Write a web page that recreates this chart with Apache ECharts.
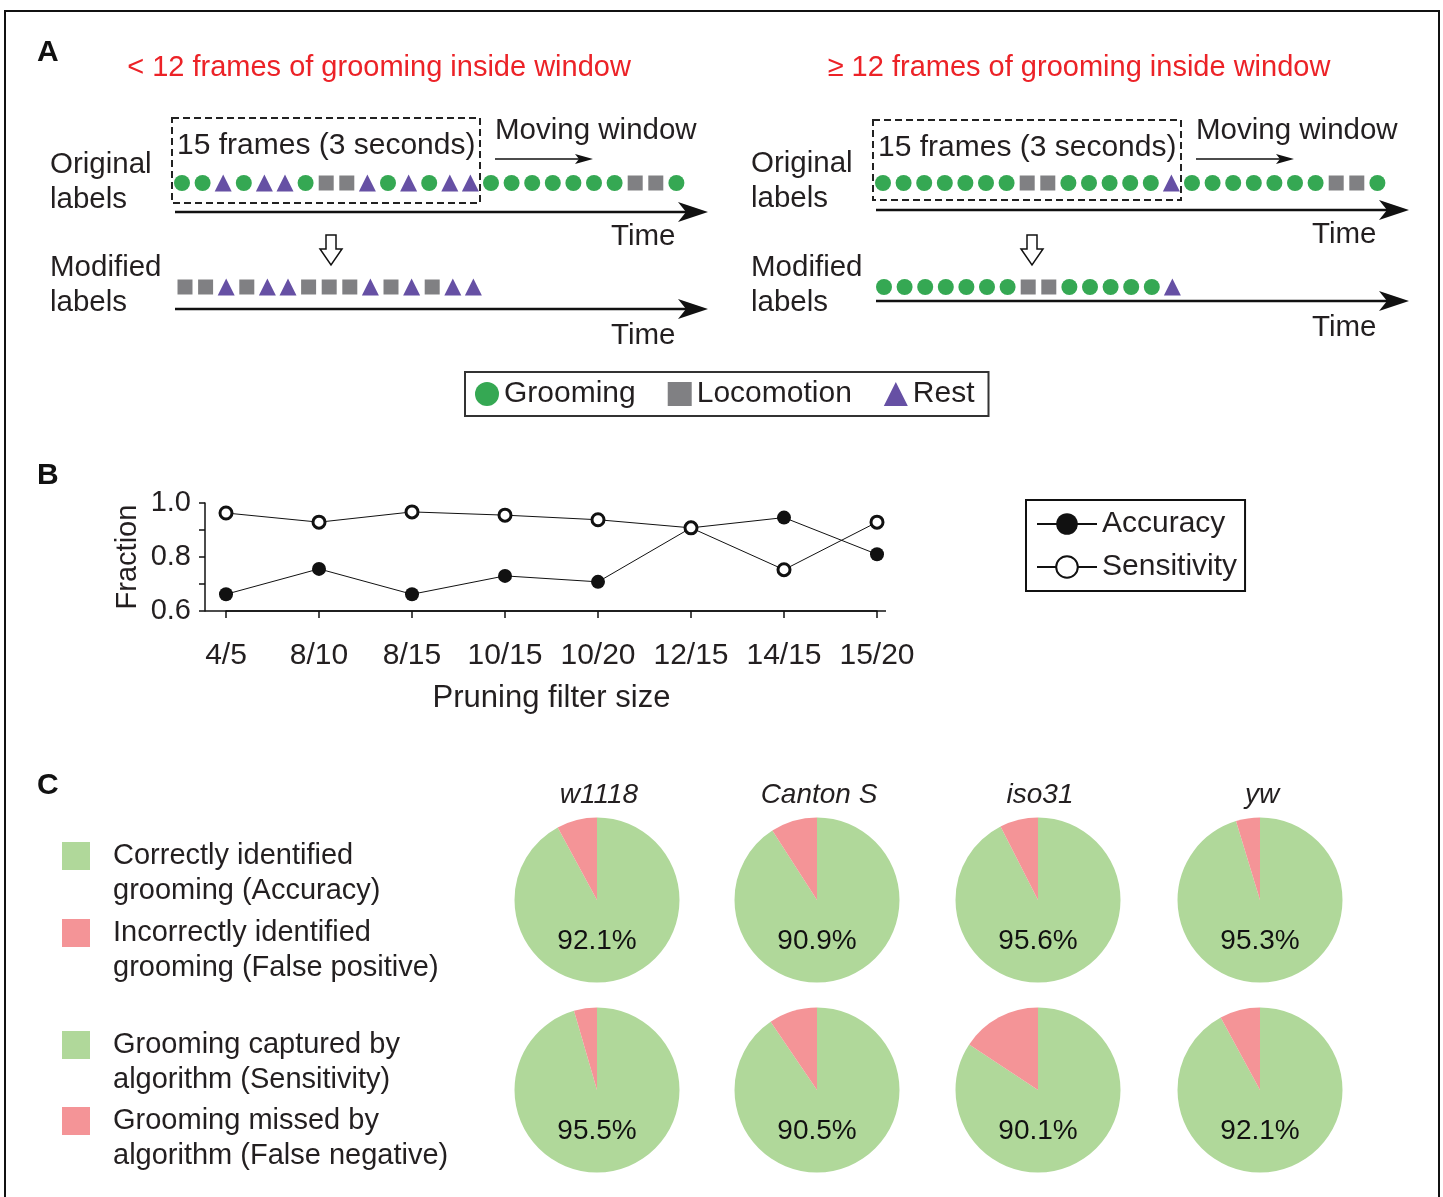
<!DOCTYPE html>
<html><head><meta charset="utf-8">
<script src="https://cdn.jsdelivr.net/npm/echarts@6/dist/echarts.min.js"></script>
<style>html,body{margin:0;padding:0;background:#fff}#c{width:1443px;height:1197px}</style>
</head><body><div id="c"></div>
<script>
// ---------- Panel A: frame labels (G = grooming, L = locomotion, R = rest)
const behaviors = ['Grooming', 'Locomotion', 'Rest'];
const behaviorCodes = ['G', 'L', 'R'];
const leftOriginal  = ['G','G','R','G','R','R','G','L','L','R','G','R','G','R','R','G','G','G','G','G','G','G','L','L','G'];
const leftModified  = ['L','L','R','L','R','R','L','L','L','R','L','R','L','R','R'];
const rightOriginal = ['G','G','G','G','G','G','G','L','L','G','G','G','G','G','R','G','G','G','G','G','G','G','L','L','G'];
const rightModified = ['G','G','G','G','G','G','G','L','L','G','G','G','G','G','R'];

// ---------- Panel B
const filterSizes = ['4/5', '8/10', '8/15', '10/15', '10/20', '12/15', '14/15', '15/20'];
const accuracy    = [0.662, 0.756, 0.662, 0.730, 0.708, 0.908, 0.946, 0.810];
const sensitivity = [0.963, 0.929, 0.967, 0.955, 0.938, 0.908, 0.753, 0.929];

// ---------- Panel C
const strains = ['w1118', 'Canton S', 'iso31', 'yw'];
const accuracyPct    = [92.1, 90.9, 95.6, 95.3];
const sensitivityPct = [95.5, 90.5, 90.1, 92.1];
const falsePositiveWedge = [7.9, 9.1, 7.5, 4.7];   // pink wedge as drawn (%)
const falseNegativeWedge = [4.5, 9.5, 15.7, 7.9];  // pink wedge as drawn (%)
const cLegendTop = ['Correctly identified\ngrooming (Accuracy)', 'Incorrectly identified\ngrooming (False positive)'];
const cLegendBottom = ['Grooming captured by\nalgorithm (Sensitivity)', 'Grooming missed by\nalgorithm (False negative)'];

// ---------- styling
const FONT = '"Liberation Sans", Arial, Helvetica, sans-serif';
const INK = '#231f20';
const GREEN = '#35a853', GRAY = '#808083', PURPLE = '#6650a4';
const PIE_GREEN = '#b0d89a', PIE_PINK = '#f49497';
const behaviorStyle = {
  G: {symbol: 'circle', size: 16, color: GREEN},
  L: {symbol: 'rect', size: 15, color: GRAY},
  R: {symbol: 'triangle', size: 17, color: PURPLE}
};

const grid = [], xAxis = [], yAxis = [], series = [], legend = [], graphic = [];

// Panel A rows as scatter on hidden axes
const STEP = 20.6;
const rows = [
  {seq: leftOriginal, left: 182, y: 183},
  {seq: leftModified, left: 185, y: 287},
  {seq: rightOriginal, left: 883, y: 183},
  {seq: rightModified, left: 884, y: 287}
];
rows.forEach((r, gi) => {
  grid.push({left: r.left, top: r.y - 10, width: STEP * 24, height: 20});
  xAxis.push({type: 'value', gridIndex: gi, min: 0, max: 24, show: false});
  yAxis.push({type: 'value', gridIndex: gi, min: 0, max: 1, show: false});
  behaviorCodes.forEach((code, bi) => {
    const st = behaviorStyle[code];
    series.push({
      type: 'scatter', name: behaviors[bi], xAxisIndex: gi, yAxisIndex: gi,
      symbol: st.symbol, symbolSize: st.size, itemStyle: {color: st.color, opacity: 1},
      silent: true,
      data: r.seq.map((c, i) => c === code ? [i, 0.5] : null).filter(d => d)
    });
  });
});

// Panel B
const GB = rows.length;
grid.push({left: 226, right: 566, top: 503, height: 108});
xAxis.push({
  type: 'category', gridIndex: GB, data: filterSizes, boundaryGap: false,
  axisLine: {show: true, lineStyle: {color: '#111', width: 1.5}},
  axisTick: {show: true, length: 7, interval: 0, lineStyle: {color: '#111', width: 1.5}},
  axisLabel: {fontSize: 30, fontFamily: FONT, color: INK, margin: 30, interval: 0},
  name: 'Pruning filter size', nameLocation: 'middle', nameGap: 72,
  nameTextStyle: {fontSize: 31, fontFamily: FONT, color: INK}
});
yAxis.push({
  type: 'value', gridIndex: GB, min: 0.6, max: 1.0, interval: 0.2, offset: 21,
  axisLine: {show: true, lineStyle: {color: '#111', width: 1.5}},
  axisTick: {show: true, length: 6, lineStyle: {color: '#111', width: 1.5}},
  minorTick: {show: true, splitNumber: 2, length: 6, lineStyle: {color: '#111', width: 1.5}},
  splitLine: {show: false},
  axisLabel: {fontSize: 29, fontFamily: FONT, color: INK, margin: 14, formatter: v => v.toFixed(1)},
  name: 'Fraction', nameLocation: 'middle', nameGap: 63, nameRotate: 90,
  nameTextStyle: {fontSize: 29, fontFamily: FONT, color: INK}
});
series.push({
  type: 'line', name: 'Accuracy', xAxisIndex: GB, yAxisIndex: GB, data: accuracy,
  symbol: 'circle', symbolSize: 14, showAllSymbol: true,
  lineStyle: {color: '#111', width: 1}, itemStyle: {color: '#111'}, silent: true
});
series.push({
  type: 'line', name: 'Sensitivity', xAxisIndex: GB, yAxisIndex: GB, data: sensitivity,
  symbol: 'circle', symbolSize: 12, showAllSymbol: true,
  lineStyle: {color: '#111', width: 1}, itemStyle: {color: '#fff', borderColor: '#111', borderWidth: 3}, silent: true
});

// Panel C pies
const pieX = [597, 817, 1038, 1260];
function addPie(cx, cy, pct, wedge, names) {
  series.push({
    type: 'pie', center: [cx, cy], radius: 82.5, startAngle: 90, clockwise: true,
    silent: true, avoidLabelOverlap: false, labelLine: {show: false},
    emphasis: {disabled: true},
    label: {show: false},
    data: [
      {value: 100 - wedge, name: names[0], itemStyle: {color: PIE_GREEN},
       label: {show: true, position: 'center', formatter: '\n' + pct.toFixed(1) + '%', fontSize: 28,
               lineHeight: 82, fontFamily: FONT, color: '#111'}},
      {value: wedge, name: names[1], itemStyle: {color: PIE_PINK}}
    ]
  });
}
strains.forEach((s, i) => {
  addPie(pieX[i], 900, accuracyPct[i], falsePositiveWedge[i], cLegendTop);
  addPie(pieX[i], 1090, sensitivityPct[i], falseNegativeWedge[i], cLegendBottom);
  graphic.push({type: 'text', silent: true, style: {text: s, x: pieX[i] + 2, y: 795, align: 'center', verticalAlign: 'middle',
    font: 'italic 28px ' + FONT, fill: INK}});
});

// Legends
legend.push({
  data: behaviors, left: 465, top: 372, orient: 'horizontal', itemWidth: 24, itemHeight: 24, itemGap: 32,
  padding: [7, 14, 7, 10], borderColor: '#333', borderWidth: 2, selectedMode: false,
  itemStyle: {opacity: 1},
  textStyle: {fontSize: 30, fontFamily: FONT, color: INK}
});
legend.push({
  data: ['Accuracy', 'Sensitivity'], left: 1026, top: 500, orient: 'vertical', itemWidth: 60, itemHeight: 27,
  itemGap: 13, padding: [9, 8, 9, 10], borderColor: '#111', borderWidth: 2, selectedMode: false,
  lineStyle: {width: 2}, textStyle: {fontSize: 30, fontFamily: FONT, color: INK}
});
const cLegendNames = cLegendTop.concat(cLegendBottom);
const cIconCenters = [855, 932, 1044, 1120];
cLegendNames.forEach((n, i) => {
  legend.push({
    data: [n], left: 62, top: cIconCenters[i] - 52.5, orient: 'vertical', itemWidth: 28, itemHeight: 28,
    icon: 'rect', padding: 0, selectedMode: false,
    formatter: name => '\n' + name,
    textStyle: {fontSize: 29, lineHeight: 35, fontFamily: FONT, color: INK, padding: [2, 0, 0, 18]}
  });
});

// ---------- Graphic decorations
const line = (x1, y1, x2, y2, w, dash) => ({type: 'line', silent: true, shape: {x1, y1, x2, y2},
  style: {stroke: '#111', lineWidth: w || 2, lineDash: dash || null}});
const txt = (text, x, y, size, opts) => Object.assign({type: 'text', silent: true,
  style: Object.assign({text, x, y, font: 'normal ' + size + 'px ' + FONT, fill: INK, align: 'left', verticalAlign: 'middle'}, opts || {})});
const poly = (pts, fill, stroke) => ({type: 'polygon', silent: true, shape: {points: pts},
  style: {fill: fill, stroke: stroke || null, lineWidth: stroke ? 1.5 : 0}});

// frame
graphic.push(line(5, 11, 1439, 11, 2), line(5, 10, 5, 1197, 2), line(1439, 10, 1439, 1197, 2));
// panel letters
graphic.push(txt('A', 37, 53, 30, {font: 'bold 30px ' + FONT, fill: '#111'}));
graphic.push(txt('B', 37, 476, 30, {font: 'bold 30px ' + FONT, fill: '#111'}));
graphic.push(txt('C', 37, 786, 30, {font: 'bold 30px ' + FONT, fill: '#111'}));
// red titles
graphic.push(txt('< 12 frames of grooming inside window', 379, 68, 29, {align: 'center', fill: '#ec2227'}));
graphic.push(txt('\u2265 12 frames of grooming inside window', 1079, 68, 29, {align: 'center', fill: '#ec2227'}));

function timeArrow(x1, x2, y) {
  graphic.push(line(x1, y, x2 - 14, y, 2.5));
  graphic.push(poly([[x2, y], [x2 - 30, y - 10], [x2 - 22, y], [x2 - 30, y + 10]], '#111'));
}
function movingArrow(x1, x2, y) {
  graphic.push(line(x1, y, x2 - 8, y, 1.5));
  graphic.push(poly([[x2, y], [x2 - 18, y - 5], [x2 - 14, y], [x2 - 18, y + 5]], '#111'));
}
function downArrow(cx, top) {
  graphic.push(poly([[cx - 5, top], [cx + 5, top], [cx + 5, top + 14], [cx + 11, top + 14], [cx, top + 30],
    [cx - 11, top + 14], [cx - 5, top + 14]], '#fff', '#111'));
}
const AF = 29.5;
function panelA(dx, o) {
  graphic.push(txt('Original', 50 + dx, o.origY, AF));
  graphic.push(txt('labels', 50 + dx, o.origY + 35, AF));
  graphic.push(txt('Modified', 50 + dx, 268, AF));
  graphic.push(txt('labels', 50 + dx, 303, AF));
  graphic.push({type: 'rect', silent: true, shape: {x: 172 + dx, y: o.boxTop, width: 308, height: o.boxH},
    style: {fill: 'none', stroke: '#222', lineWidth: 2, lineDash: [7, 4]}});
  graphic.push(txt('15 frames (3 seconds)', 177 + dx, o.boxTop + 28, 30));
  graphic.push(txt('Moving window', 495 + dx, 131, AF));
  movingArrow(495 + dx, 593 + dx, 159);
  timeArrow(175 + dx, 708 + dx, o.arrow1);
  graphic.push(txt('Time', 611 + dx, o.arrow1 + 25, AF));
  downArrow(331 + dx, 235);
  timeArrow(175 + dx, 708 + dx, o.arrow2);
  graphic.push(txt('Time', 611 + dx, o.arrow2 + 27, AF));
}
panelA(0, {origY: 165, boxTop: 118, boxH: 85, arrow1: 212, arrow2: 309});
panelA(701, {origY: 164, boxTop: 120, boxH: 80, arrow1: 210, arrow2: 301});

// Panel B x-axis line extension to meet the y axis
graphic.push(line(205, 611, 886, 611, 1.5));

const chart = echarts.init(document.getElementById('c'), null, {renderer: 'canvas'});
chart.setOption({
  animation: false,
  backgroundColor: '#fff',
  textStyle: {fontFamily: FONT},
  grid, xAxis, yAxis, series, legend, graphic
});
</script></body></html>
